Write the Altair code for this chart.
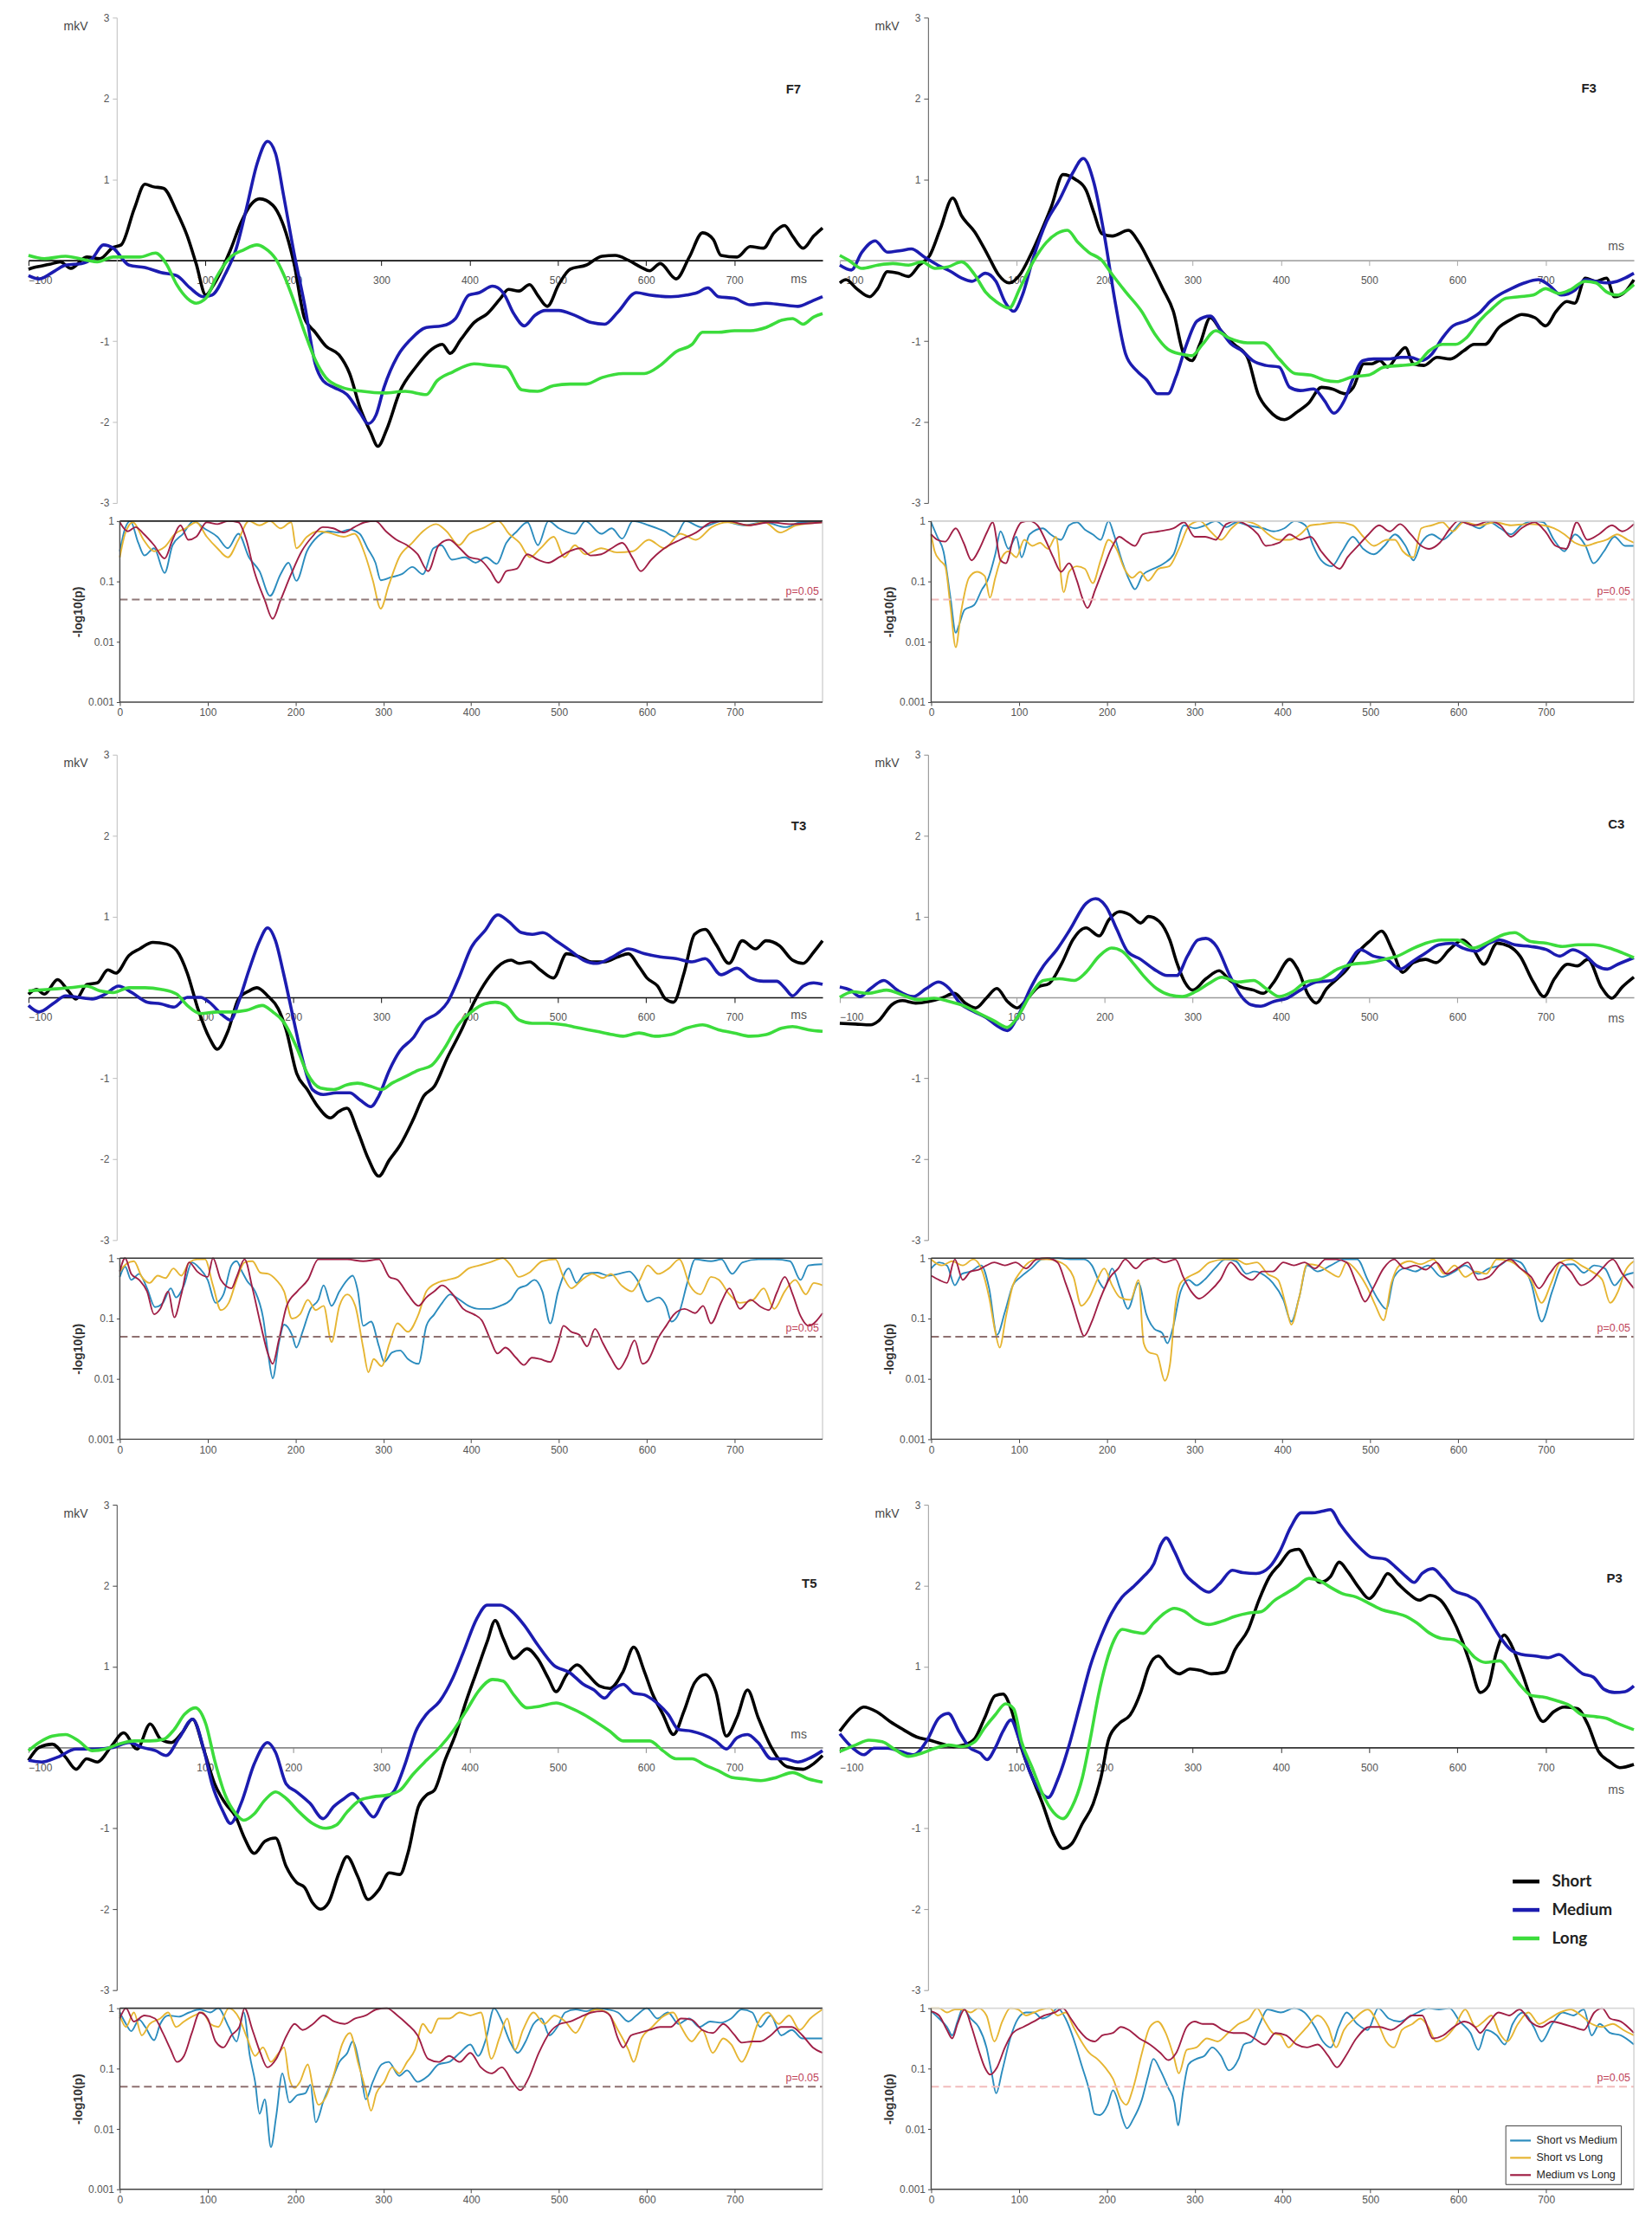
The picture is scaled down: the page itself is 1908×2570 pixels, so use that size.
import altair as alt
import pandas as pd

# ---------------- categories / colours ----------------
CONDITIONS = ["Short", "Medium", "Long"]
COND_COLORS = ["#000000", "#1c1cb0", "#3cdc3c"]
COMPARISONS = ["Short vs Medium", "Short vs Long", "Medium vs Long"]
COMP_COLORS = ["#2b8cbe", "#e6b532", "#a01f46"]

# ---------------- ERP amplitudes (ms, microvolts) ----------------
F7_SHORT = [(-100,-0.11),(-94,-0.09),(-76,-0.05),(-64,-0.02),(-52,-0.1),(-34,0.04),(-19,0.02),(-4,0.16),(5,0.19),(20,0.64),(32,0.94),(41,0.91),(53,0.89),(68,0.6),(80,0.3),(90,-0.04),(101,-0.43),(110,-0.3),(129,0.13),(141,0.47),(153,0.7),(162,0.76),(177,0.68),(189,0.43),(201,-0.04),(213,-0.72),(225,-0.89),(237,-1.06),(252,-1.17),(264,-1.4),(276,-1.83),(288,-2.13),(296,-2.3),(306,-2.09),(321,-1.62),(339,-1.32),(357,-1.1),(369,-1.04),(378,-1.15),(390,-0.98),(405,-0.77),(420,-0.66),(435,-0.47),(444,-0.36),(456,-0.38),(468,-0.3),(477,-0.43),(488,-0.57),(501,-0.3),(514,-0.11),(532,-0.06),(550,0.05),(565,0.06),(580,0.0),(595,-0.09),(604,-0.13),(616,-0.04),(634,-0.23),(649,0.04),(664,0.34),(676,0.26),(685,0.06),(703,0.04),(718,0.17),(733,0.15),(745,0.34),(757,0.43),(766,0.3),(778,0.15),(790,0.3),(800,0.4)]
F7_MEDIUM = [(-100,-0.19),(-88,-0.23),(-70,-0.13),(-58,-0.06),(-40,-0.04),(-28,0.02),(-15,0.19),(-4,0.15),(14,-0.06),(32,-0.09),(50,-0.15),(68,-0.19),(83,-0.34),(98,-0.45),(108,-0.43),(123,-0.17),(135,0.13),(147,0.64),(159,1.19),(171,1.47),(180,1.32),(189,0.81),(201,0.09),(213,-0.55),(225,-1.28),(234,-1.49),(246,-1.57),(261,-1.66),(276,-1.89),(285,-2.02),(294,-1.91),(303,-1.57),(318,-1.19),(333,-0.98),(351,-0.83),(369,-0.81),(384,-0.72),(399,-0.43),(411,-0.4),(426,-0.32),(438,-0.4),(450,-0.66),(462,-0.81),(474,-0.68),(486,-0.62),(501,-0.62),(519,-0.68),(538,-0.77),(553,-0.79),(568,-0.64),(589,-0.4),(604,-0.43),(628,-0.45),(646,-0.43),(658,-0.4),(670,-0.34),(682,-0.45),(700,-0.47),(718,-0.55),(736,-0.53),(754,-0.55),(772,-0.57),(787,-0.51),(800,-0.45)]
F7_LONG = [(-100,0.06),(-82,0.02),(-58,0.05),(-34,0.0),(-22,-0.02),(-4,0.04),(26,0.04),(44,0.09),(56,-0.04),(68,-0.3),(80,-0.47),(90,-0.53),(101,-0.47),(113,-0.21),(129,0.04),(144,0.13),(159,0.19),(168,0.15),(180,0.02),(189,-0.17),(201,-0.51),(213,-0.89),(225,-1.23),(237,-1.45),(255,-1.57),(279,-1.62),(303,-1.64),(327,-1.62),(351,-1.66),(363,-1.49),(381,-1.38),(405,-1.28),(423,-1.3),(441,-1.32),(459,-1.6),(477,-1.62),(495,-1.55),(514,-1.53),(532,-1.53),(550,-1.45),(574,-1.4),(598,-1.4),(616,-1.3),(634,-1.13),(652,-1.04),(664,-0.89),(682,-0.89),(700,-0.87),(718,-0.87),(736,-0.83),(754,-0.74),(766,-0.72),(778,-0.79),(790,-0.7),(800,-0.66)]

F3_SHORT = [(-100,-0.28),(-93,-0.24),(-81,-0.35),(-66,-0.45),(-57,-0.35),(-46,-0.14),(-34,-0.16),(-22,-0.2),(-10,-0.06),(2,0.06),(14,0.39),(28,0.77),(38,0.55),(53,0.35),(68,0.06),(80,-0.18),(92,-0.28),(104,-0.18),(116,0.06),(128,0.35),(140,0.67),(153,1.06),(167,1.0),(179,0.87),(188,0.59),(197,0.33),(209,0.3),(227,0.37),(239,0.22),(251,-0.02),(266,-0.35),(278,-0.63),(290,-1.16),(299,-1.24),(308,-1.04),(320,-0.71),(332,-0.87),(347,-1.04),(362,-1.2),(374,-1.65),(386,-1.85),(404,-1.97),(419,-1.87),(431,-1.77),(446,-1.57),(458,-1.59),(473,-1.65),(482,-1.57),(494,-1.28),(503,-1.28),(512,-1.24),(521,-1.32),(533,-1.16),(541,-1.08),(550,-1.28),(562,-1.3),(577,-1.2),(592,-1.22),(607,-1.12),(619,-1.04),(631,-1.04),(647,-0.83),(661,-0.73),(673,-0.67),(688,-0.71),(700,-0.81),(712,-0.63),(724,-0.51),(733,-0.53),(745,-0.22),(757,-0.26),(769,-0.22),(778,-0.45),(790,-0.39),(800,-0.24)]
F3_MEDIUM = [(-100,-0.06),(-87,-0.12),(-75,0.1),(-60,0.24),(-46,0.1),(-31,0.12),(-19,0.14),(-4,0.04),(11,-0.06),(26,-0.14),(38,-0.22),(50,-0.26),(65,-0.16),(77,-0.26),(87,-0.51),(97,-0.63),(107,-0.43),(119,0.02),(134,0.47),(149,0.75),(164,1.08),(176,1.26),(188,0.96),(200,0.3),(212,-0.51),(224,-1.16),(236,-1.36),(248,-1.48),(260,-1.65),(272,-1.65),(281,-1.44),(293,-1.04),(305,-0.75),(320,-0.69),(332,-0.87),(344,-1.04),(356,-1.12),(368,-1.24),(383,-1.3),(398,-1.32),(410,-1.57),(422,-1.61),(437,-1.59),(449,-1.73),(460,-1.89),(472,-1.73),(481,-1.48),(493,-1.24),(505,-1.22),(521,-1.22),(536,-1.2),(547,-1.2),(559,-1.24),(571,-1.16),(583,-0.96),(595,-0.81),(610,-0.75),(625,-0.65),(637,-0.51),(650,-0.41),(661,-0.35),(676,-0.28),(692,-0.24),(703,-0.3),(718,-0.43),(733,-0.37),(745,-0.24),(757,-0.26),(769,-0.28),(781,-0.26),(790,-0.22),(800,-0.16)]
F3_LONG = [(-100,0.06),(-90,0.0),(-75,-0.1),(-57,-0.06),(-40,-0.04),(-22,-0.06),(-7,-0.02),(8,-0.1),(23,-0.08),(38,-0.02),(53,-0.18),(65,-0.39),(77,-0.51),(92,-0.59),(104,-0.35),(119,-0.02),(134,0.22),(146,0.33),(158,0.37),(170,0.22),(182,0.1),(197,0.0),(209,-0.18),(224,-0.39),(242,-0.63),(257,-0.91),(272,-1.1),(287,-1.16),(299,-1.18),(311,-1.04),(326,-0.87),(341,-0.96),(362,-1.02),(380,-1.02),(398,-1.22),(416,-1.4),(434,-1.42),(449,-1.48),(463,-1.5),(481,-1.44),(499,-1.42),(517,-1.32),(536,-1.3),(553,-1.28),(568,-1.12),(583,-1.04),(598,-1.04),(610,-0.96),(625,-0.75),(640,-0.59),(655,-0.47),(670,-0.45),(686,-0.43),(700,-0.35),(715,-0.41),(727,-0.37),(745,-0.26),(757,-0.28),(769,-0.39),(781,-0.43),(790,-0.39),(800,-0.3)]

T3_SHORT = [(-100,0.04),(-91,0.1),(-82,0.04),(-67,0.22),(-55,0.08),(-46,-0.02),(-34,0.16),(-22,0.18),(-10,0.34),(-1,0.3),(14,0.52),(26,0.6),(41,0.68),(56,0.66),(68,0.58),(80,0.3),(92,-0.14),(105,-0.5),(114,-0.64),(126,-0.42),(138,-0.02),(150,0.08),(159,0.12),(171,0.02),(183,-0.14),(192,-0.4),(204,-0.94),(216,-1.14),(228,-1.35),(242,-1.49),(252,-1.41),(261,-1.37),(273,-1.65),(285,-1.99),(297,-2.21),(309,-2.01),(321,-1.83),(336,-1.51),(348,-1.22),(360,-1.1),(375,-0.74),(390,-0.42),(405,-0.06),(420,0.22),(432,0.38),(447,0.46),(456,0.42),(468,0.44),(480,0.34),(495,0.24),(510,0.54),(525,0.5),(538,0.44),(553,0.44),(568,0.5),(580,0.54),(592,0.38),(601,0.24),(613,0.14),(622,-0.02),(631,-0.06),(643,0.3),(655,0.78),(667,0.84),(679,0.66),(694,0.42),(709,0.7),(724,0.6),(736,0.7),(751,0.64),(766,0.46),(778,0.42),(790,0.56),(800,0.7)]
T3_MEDIUM = [(-100,-0.1),(-88,-0.18),(-70,-0.06),(-58,0.02),(-43,0.0),(-28,-0.02),(-13,0.04),(2,0.14),(17,0.06),(35,-0.06),(50,-0.08),(65,-0.12),(80,0.0),(95,0.0),(105,-0.06),(120,-0.22),(129,-0.28),(138,-0.06),(150,0.34),(162,0.7),(171,0.86),(180,0.7),(189,0.3),(201,-0.3),(210,-0.74),(222,-1.14),(234,-1.2),(249,-1.18),(264,-1.18),(276,-1.27),(288,-1.35),(297,-1.22),(309,-0.9),(321,-0.66),(336,-0.5),(348,-0.3),(363,-0.2),(375,-0.06),(387,0.22),(402,0.62),(417,0.82),(432,1.02),(444,0.94),(459,0.8),(471,0.78),(483,0.8),(498,0.7),(514,0.58),(529,0.46),(544,0.42),(562,0.5),(580,0.6),(598,0.54),(616,0.5),(634,0.48),(652,0.44),(667,0.48),(685,0.28),(703,0.36),(718,0.24),(733,0.2),(748,0.2),(757,0.12),(766,0.02),(778,0.14),(790,0.18),(800,0.16)]
T3_LONG = [(-100,0.08),(-76,0.1),(-52,0.12),(-34,0.14),(-19,0.08),(-4,0.06),(14,0.12),(32,0.12),(50,0.1),(68,0.04),(80,-0.1),(95,-0.2),(114,-0.18),(129,-0.18),(147,-0.16),(165,-0.1),(177,-0.18),(189,-0.3),(204,-0.62),(216,-0.94),(231,-1.12),(246,-1.14),(261,-1.08),(273,-1.06),(288,-1.1),(300,-1.14),(312,-1.06),(327,-0.98),(342,-0.9),(357,-0.84),(372,-0.62),(387,-0.34),(402,-0.18),(417,-0.08),(429,-0.06),(441,-0.1),(456,-0.28),(471,-0.32),(489,-0.32),(507,-0.34),(525,-0.38),(544,-0.42),(562,-0.46),(574,-0.48),(592,-0.44),(610,-0.48),(628,-0.46),(646,-0.38),(664,-0.34),(682,-0.4),(700,-0.44),(718,-0.48),(736,-0.46),(754,-0.38),(766,-0.36),(784,-0.4),(800,-0.42)]

C3_SHORT = [(-100,-0.32),(-82,-0.33),(-65,-0.34),(-56,-0.29),(-41,-0.09),(-29,-0.04),(-14,-0.07),(1,-0.05),(15,-0.01),(30,0.05),(42,-0.07),(54,-0.13),(66,-0.01),(78,0.11),(90,-0.05),(101,-0.13),(113,-0.01),(125,0.13),(137,0.17),(152,0.43),(164,0.71),(179,0.86),(194,0.76),(205,0.96),(217,1.06),(229,1.02),(241,0.92),(250,1.0),(262,0.94),(274,0.71),(282,0.43),(291,0.19),(300,0.09),(315,0.23),(330,0.33),(342,0.21),(354,0.13),(369,0.09),(380,0.05),(392,0.19),(410,0.47),(419,0.35),(431,0.03),(440,-0.07),(452,0.11),(464,0.23),(475,0.35),(487,0.55),(502,0.71),(514,0.82),(526,0.59),(538,0.31),(550,0.43),(564,0.47),(576,0.43),(591,0.59),(606,0.71),(618,0.59),(630,0.41),(645,0.67),(659,0.63),(671,0.51),(686,0.19),(698,0.01),(710,0.23),(725,0.41),(736,0.39),(748,0.47),(763,0.13),(775,-0.01),(787,0.13),(800,0.25)]
C3_MEDIUM = [(-100,0.13),(-88,0.09),(-77,0.01),(-65,0.11),(-50,0.21),(-35,0.09),(-17,0.01),(-2,0.11),(12,0.19),(24,0.11),(36,-0.07),(51,-0.17),(66,-0.25),(78,-0.35),(90,-0.41),(101,-0.25),(116,0.11),(131,0.39),(146,0.59),(161,0.84),(179,1.16),(190,1.22),(202,1.12),(214,0.84),(226,0.57),(241,0.47),(256,0.35),(271,0.27),(282,0.27),(294,0.51),(306,0.71),(315,0.73),(327,0.63),(342,0.27),(354,0.03),(366,-0.09),(377,-0.11),(392,-0.05),(407,-0.01),(422,0.09),(440,0.19),(458,0.21),(475,0.39),(490,0.59),(505,0.51),(520,0.47),(535,0.35),(550,0.45),(564,0.55),(579,0.65),(594,0.67),(606,0.61),(621,0.57),(636,0.67),(648,0.71),(665,0.65),(683,0.63),(701,0.59),(716,0.51),(731,0.59),(746,0.51),(758,0.39),(770,0.35),(782,0.41),(800,0.49)]
C3_LONG = [(-100,0.0),(-85,0.07),(-68,0.05),(-47,0.09),(-29,0.03),(-11,-0.03),(7,-0.01),(24,-0.05),(42,-0.11),(60,-0.21),(75,-0.29),(90,-0.37),(101,-0.25),(116,0.03),(131,0.21),(149,0.23),(166,0.21),(179,0.31),(194,0.51),(208,0.61),(220,0.57),(232,0.43),(244,0.27),(259,0.11),(274,0.03),(288,0.01),(303,0.07),(318,0.17),(333,0.25),(351,0.19),(369,0.21),(383,0.11),(398,0.01),(413,0.07),(428,0.19),(446,0.23),(464,0.35),(481,0.41),(499,0.43),(517,0.47),(532,0.51),(547,0.59),(564,0.67),(582,0.71),(600,0.71),(618,0.61),(636,0.69),(653,0.78),(665,0.8),(683,0.69),(701,0.67),(719,0.63),(737,0.65),(754,0.65),(772,0.61),(787,0.55),(800,0.49)]

T5_SHORT = [(-100,-0.16),(-88,0.0),(-73,0.04),(-58,-0.12),(-46,-0.27),(-34,-0.14),(-22,-0.18),(-7,0.0),(8,0.18),(23,-0.02),(38,0.29),(50,0.1),(62,0.06),(74,0.18),(86,0.35),(99,-0.04),(111,-0.45),(123,-0.69),(135,-0.86),(144,-1.1),(156,-1.31),(168,-1.16),(180,-1.12),(192,-1.47),(204,-1.67),(213,-1.73),(222,-1.92),(231,-2.0),(240,-1.92),(252,-1.55),(261,-1.35),(273,-1.59),(285,-1.88),(297,-1.76),(309,-1.55),(321,-1.57),(330,-1.31),(342,-0.73),(351,-0.59),(360,-0.53),(372,-0.16),(384,0.16),(396,0.57),(408,0.94),(420,1.31),(429,1.57),(438,1.35),(450,1.1),(465,1.22),(477,1.1),(489,0.86),(498,0.69),(510,0.9),(522,1.02),(534,0.9),(547,0.76),(559,0.73),(574,0.94),(586,1.24),(598,0.94),(607,0.67),(619,0.41),(631,0.16),(643,0.45),(655,0.8),(667,0.9),(679,0.69),(691,0.14),(703,0.37),(715,0.71),(727,0.37),(742,0.0),(760,-0.24),(778,-0.27),(790,-0.2),(800,-0.1)]
T5_MEDIUM = [(-100,-0.16),(-85,-0.18),(-67,-0.12),(-46,-0.02),(-25,-0.02),(-4,0.0),(14,0.06),(29,0.0),(44,-0.04),(56,-0.1),(71,0.12),(86,0.35),(99,-0.04),(108,-0.45),(120,-0.78),(129,-0.94),(141,-0.69),(156,-0.2),(171,0.06),(180,-0.06),(192,-0.45),(204,-0.55),(219,-0.69),(234,-0.88),(246,-0.73),(258,-0.63),(267,-0.57),(279,-0.71),(291,-0.86),(303,-0.65),(315,-0.53),(327,-0.2),(339,0.2),(351,0.41),(366,0.57),(381,0.86),(393,1.18),(408,1.59),(420,1.76),(435,1.76),(447,1.69),(462,1.51),(477,1.27),(495,1.02),(514,0.92),(529,0.78),(541,0.71),(553,0.61),(562,0.71),(574,0.78),(586,0.67),(598,0.65),(610,0.57),(625,0.41),(637,0.22),(652,0.2),(664,0.16),(679,0.08),(691,-0.02),(703,0.12),(715,0.16),(727,0.06),(742,-0.14),(757,-0.14),(772,-0.18),(784,-0.14),(800,-0.04)]
T5_LONG = [(-100,-0.04),(-88,0.06),(-73,0.14),(-58,0.16),(-43,0.08),(-28,-0.04),(-13,-0.02),(2,0.04),(20,0.08),(38,0.08),(53,0.1),(65,0.22),(77,0.41),(89,0.49),(101,0.29),(111,-0.16),(123,-0.59),(135,-0.82),(144,-0.9),(156,-0.82),(168,-0.65),(180,-0.55),(192,-0.63),(207,-0.8),(222,-0.94),(237,-1.0),(249,-0.96),(261,-0.8),(276,-0.65),(291,-0.61),(306,-0.59),(321,-0.53),(336,-0.33),(351,-0.16),(366,0.0),(381,0.2),(396,0.45),(411,0.71),(426,0.84),(438,0.82),(450,0.65),(465,0.49),(480,0.51),(498,0.55),(514,0.49),(529,0.41),(544,0.31),(559,0.2),(574,0.08),(589,0.08),(604,0.08),(619,-0.04),(634,-0.14),(652,-0.14),(667,-0.22),(682,-0.29),(697,-0.37),(712,-0.39),(730,-0.41),(748,-0.37),(766,-0.31),(784,-0.39),(800,-0.43)]

P3_SHORT = [(-100,0.2),(-85,0.4),(-73,0.5),(-58,0.44),(-43,0.32),(-28,0.22),(-13,0.13),(2,0.09),(14,0.05),(29,0.01),(41,0.03),(53,0.11),(64,0.36),(76,0.64),(85,0.66),(94,0.48),(106,-0.01),(118,-0.37),(130,-0.7),(142,-1.07),(153,-1.25),(163,-1.19),(175,-0.94),(187,-0.7),(196,-0.37),(205,0.11),(217,0.3),(229,0.4),(241,0.68),(250,0.99),(261,1.13),(273,0.99),(285,0.91),(297,0.97),(309,0.95),(321,0.91),(336,0.93),(348,1.21),(363,1.46),(375,1.82),(387,2.11),(399,2.27),(411,2.43),(420,2.45),(432,2.23),(444,2.04),(456,2.11),(466,2.29),(476,2.17),(488,1.98),(500,1.84),(512,2.0),(521,2.15),(533,2.02),(545,1.9),(557,1.82),(569,1.88),(581,1.82),(593,1.62),(605,1.33),(614,1.05),(626,0.68),(635,0.76),(644,1.17),(653,1.39),(661,1.27),(673,0.93),(685,0.56),(697,0.32),(709,0.44),(721,0.5),(736,0.48),(748,0.28),(760,-0.05),(772,-0.17),(784,-0.25),(800,-0.21)]
P3_MEDIUM = [(-100,0.17),(-85,-0.01),(-73,-0.09),(-61,-0.01),(-46,-0.01),(-31,-0.05),(-16,-0.09),(-1,0.09),(12,0.36),(23,0.42),(35,0.2),(47,0.0),(59,-0.07),(67,-0.15),(76,-0.01),(85,0.2),(94,0.34),(103,0.11),(115,-0.29),(127,-0.54),(136,-0.62),(148,-0.37),(160,0.03),(172,0.52),(184,1.01),(196,1.37),(208,1.66),(220,1.86),(232,1.98),(244,2.11),(256,2.27),(264,2.51),(270,2.59),(279,2.43),(291,2.15),(303,2.02),(318,1.92),(330,2.02),(345,2.19),(357,2.16),(372,2.15),(387,2.23),(399,2.43),(411,2.72),(423,2.9),(435,2.9),(447,2.92),(456,2.94),(467,2.76),(479,2.59),(491,2.45),(503,2.35),(518,2.33),(530,2.23),(542,2.11),(551,2.04),(560,2.15),(572,2.21),(584,2.09),(596,1.94),(611,1.88),(623,1.8),(635,1.6),(648,1.37),(660,1.21),(673,1.15),(688,1.13),(703,1.11),(715,1.15),(727,1.05),(742,0.91),(754,0.87),(766,0.72),(778,0.68),(790,0.69),(800,0.76)]
P3_LONG = [(-100,-0.05),(-82,0.03),(-67,0.09),(-52,0.07),(-37,-0.03),(-22,-0.11),(-7,-0.07),(8,-0.01),(23,0.03),(38,0.01),(53,0.07),(64,0.24),(76,0.4),(88,0.54),(97,0.48),(106,0.07),(118,-0.25),(130,-0.58),(142,-0.8),(153,-0.88),(163,-0.74),(175,-0.37),(184,0.11),(193,0.64),(202,1.05),(211,1.33),(220,1.46),(232,1.43),(244,1.41),(256,1.54),(268,1.66),(279,1.72),(291,1.68),(303,1.58),(318,1.52),(333,1.56),(348,1.62),(363,1.66),(378,1.68),(393,1.82),(405,1.9),(417,1.98),(432,2.09),(444,2.06),(456,1.98),(470,1.9),(485,1.86),(500,1.78),(515,1.7),(530,1.66),(542,1.62),(554,1.54),(569,1.41),(581,1.35),(596,1.33),(608,1.25),(620,1.11),(632,1.05),(648,1.07),(660,0.93),(672,0.76),(684,0.64),(699,0.62),(712,0.58),(727,0.52),(742,0.4),(757,0.38),(769,0.36),(781,0.3),(800,0.22)]

# ---------------- significance, -log10(p) (ms, decades) ----------------
F7_SM = [(0,0.50),(6,0.12),(12,0),(21,0.36),(28,0.57),(39,0.45),(51,0.86),(60,0.40),(72,0.21),(84,0),(96,0.12),(111,0.26),(123,0.45),(135,0.21),(147,0.60),(159,0.83),(171,1.24),(183,0.88),(192,0.69),(201,0.99),(213,0.50),(225,0.26),(237,0.17),(249,0.19),(261,0.14),(273,0.21),(282,0.45),(291,0.69),(297,0.98),(309,0.93),(321,0.88),(333,0.76),(345,0.88),(357,0.45),(366,0.40),(378,0.64),(393,0.60),(405,0.69),(417,0.60),(429,0.71),(440,0.36),(452,0.17),(464,0.02),(476,0.40),(488,0),(500,0.12),(518,0.21),(530,0),(548,0.21),(560,0.12),(572,0.29),(584,0),(602,0.07),(620,0.17),(632,0.26),(644,0),(662,0.10),(686,0),(710,0.07),(734,0.02),(758,0.10),(776,0.02),(800,0.02)]
F7_SL = [(0,0.60),(6,0.21),(15,0.02),(27,0.31),(39,0.50),(51,0.43),(63,0.21),(75,0.12),(87,0.02),(99,0.26),(111,0.45),(123,0.60),(135,0.31),(147,0),(159,0.07),(171,0),(183,0.12),(195,0.02),(201,0.45),(213,0.26),(225,0.17),(237,0.19),(255,0.26),(267,0.21),(279,0.55),(288,0.98),(297,1.45),(306,1.07),(318,0.60),(333,0.36),(345,0.17),(360,0.05),(372,0.17),(386,0.40),(398,0.21),(413,0.12),(431,0),(443,0.21),(455,0.36),(467,0.60),(479,0.45),(494,0.26),(506,0.60),(518,0.40),(530,0.55),(548,0.45),(566,0.52),(584,0.50),(602,0.31),(620,0.45),(638,0.21),(656,0.31),(674,0.10),(692,0.02),(716,0.07),(734,0.02),(752,0.19),(770,0.07),(800,0.02)]
F7_ML = [(0,0.02),(9,0.17),(18,0.10),(27,0.21),(39,0.40),(51,0.62),(60,0.31),(69,0.07),(78,0.31),(87,0.26),(99,0.02),(111,0.05),(123,0),(135,0.02),(144,0.31),(153,0.83),(165,1.31),(174,1.62),(183,1.31),(195,0.88),(207,0.50),(219,0.26),(231,0.10),(243,0.12),(255,0.19),(267,0.10),(279,0.02),(291,0),(303,0.17),(315,0.31),(327,0.40),(339,0.55),(351,0.83),(363,0.40),(375,0.31),(387,0.45),(398,0.60),(410,0.64),(422,0.83),(431,1.02),(440,0.83),(452,0.79),(464,0.55),(476,0.64),(488,0.69),(500,0.60),(512,0.50),(524,0.45),(536,0.57),(548,0.55),(560,0.45),(572,0.36),(584,0.62),(593,0.83),(605,0.64),(620,0.45),(638,0.31),(656,0.19),(674,0.02),(692,0),(716,0.07),(740,0.02),(764,0.05),(800,0.02)]

F3_SM = [(0,0.02),(7,0.26),(14,0.50),(22,1.27),(28,1.85),(32,1.71),(38,1.47),(49,1.39),(58,1.13),(64,0.99),(73,0.55),(79,0.17),(88,0.46),(97,0.26),(103,0.60),(112,0.22),(127,0.12),(136,0.22),(148,0.31),(157,0.07),(166,0.02),(175,0.14),(184,0.22),(193,0.31),(202,0),(208,0.22),(217,0.65),(226,0.99),(232,1.13),(241,0.89),(253,0.79),(265,0.70),(276,0.55),(288,0.07),(300,0.12),(312,0.07),(324,0),(336,0.10),(348,0.02),(360,0.07),(378,0.12),(390,0.17),(402,0.12),(414,0),(426,0.07),(435,0.41),(444,0.65),(456,0.75),(468,0.50),(480,0.26),(492,0.46),(504,0.55),(516,0.41),(528,0.22),(540,0.41),(549,0.65),(558,0.36),(570,0.22),(582,0.31),(594,0.17),(606,0),(624,0.12),(636,0.02),(648,0.12),(660,0.22),(672,0.07),(685,0),(697,0.02),(709,0.31),(721,0.50),(733,0.22),(745,0.41),(754,0.70),(766,0.50),(778,0.26),(790,0.41),(800,0.41)]
F3_SL = [(0,0.22),(4,0.50),(10,0.65),(16,0.75),(22,1.42),(28,2.09),(34,1.51),(43,0.94),(52,0.84),(61,0.91),(67,1.27),(73,0.94),(79,0.65),(88,0.50),(97,0.60),(106,0.31),(115,0.41),(124,0.36),(133,0.46),(142,0.26),(151,1.18),(157,0.84),(166,0.75),(175,0.79),(184,1.03),(193,0.65),(202,0.31),(211,0.46),(220,0.79),(229,0.94),(238,0.84),(247,0.99),(259,0.79),(271,0.75),(282,0.46),(294,0.07),(306,0),(318,0.17),(330,0.31),(342,0.12),(354,0),(372,0.07),(384,0.22),(396,0.31),(408,0.31),(420,0.22),(432,0.07),(444,0.05),(462,0.02),(480,0.07),(492,0.26),(504,0.41),(519,0.31),(528,0.31),(537,0.50),(549,0.60),(558,0.12),(570,0.07),(582,0.02),(594,0.17),(606,0.02),(624,0.07),(642,0.02),(660,0.07),(678,0.05),(697,0.07),(709,0.12),(721,0.22),(733,0.36),(745,0.41),(757,0.36),(769,0.31),(781,0.22),(793,0.31),(800,0.36)]
F3_ML = [(0,0.22),(7,0.31),(16,0.34),(28,0.12),(37,0.36),(46,0.65),(55,0.46),(64,0.17),(70,0.02),(79,0.65),(85,0.70),(94,0.26),(103,0.02),(112,0),(121,0.07),(130,0.31),(139,0.60),(148,0.84),(157,0.70),(166,0.99),(172,1.27),(178,1.44),(187,1.13),(196,0.79),(205,0.46),(214,0.26),(223,0.34),(232,0.41),(241,0.22),(259,0.17),(276,0.12),(288,0.02),(300,0.26),(312,0.26),(324,0.31),(336,0.05),(348,0),(360,0.07),(372,0.22),(381,0.41),(396,0.36),(408,0.22),(420,0.31),(432,0.26),(444,0.50),(456,0.70),(465,0.79),(474,0.60),(486,0.41),(498,0.22),(510,0.07),(522,0.17),(534,0.05),(546,0.22),(558,0.41),(567,0.46),(579,0.36),(591,0.12),(600,0),(618,0.07),(636,0),(648,0.07),(660,0.26),(672,0.12),(687,0.02),(699,0.17),(711,0.41),(723,0.46),(735,0.02),(747,0.31),(760,0.22),(775,0.07),(787,0.17),(800,0.05)]

T3_SM = [(0,0.31),(6,0.14),(13,0.36),(22,0.26),(31,0.50),(40,0.81),(49,0.74),(58,0.50),(64,0.65),(73,0.45),(82,0.07),(91,0.17),(100,0.36),(109,0.74),(118,0.60),(127,0.12),(133,0.05),(139,0.22),(145,0.38),(154,0.55),(163,0.98),(169,1.60),(174,1.99),(181,1.41),(187,1.10),(196,1.27),(201,1.48),(208,1.22),(217,0.84),(226,0.69),(232,0.45),(241,0.79),(250,0.55),(259,0.36),(265,0.29),(271,0.55),(277,1.12),(286,1.05),(295,1.46),(301,1.72),(310,1.56),(319,1.53),(328,1.67),(340,1.75),(349,1.12),(358,0.93),(367,0.74),(376,0.60),(385,0.67),(397,0.79),(409,0.84),(421,0.84),(433,0.79),(445,0.69),(454,0.50),(463,0.45),(472,0.36),(481,0.55),(490,1.08),(499,0.55),(511,0.17),(520,0.41),(529,0.26),(544,0.24),(556,0.29),(568,0.26),(580,0.22),(589,0.36),(601,0.72),(613,0.65),(622,0.79),(628,1.05),(637,0.89),(646,0.41),(655,0.02),(673,0.05),(685,0.02),(697,0.26),(709,0.07),(727,0.02),(745,0.02),(763,0.05),(775,0.36),(784,0.12),(800,0.10)]
T3_SL = [(0,0.22),(7,0.10),(16,0.05),(25,0.31),(34,0.41),(43,0.29),(52,0.33),(61,0.17),(70,0.29),(79,0.07),(88,0.02),(97,0.02),(106,0.45),(115,0.86),(124,0.74),(133,0.36),(142,0.07),(151,0.05),(160,0.24),(169,0.26),(178,0.36),(187,0.55),(196,1.00),(205,0.93),(214,0.69),(223,0.86),(232,0.79),(241,1.39),(250,0.79),(259,0.60),(268,0.79),(277,1.48),(283,1.89),(289,1.67),(298,1.79),(307,1.41),(316,1.08),(328,1.22),(340,0.93),(349,0.55),(361,0.41),(373,0.36),(385,0.31),(397,0.17),(409,0.12),(421,0.07),(436,0),(445,0.12),(454,0.31),(466,0.24),(481,0.05),(496,0.02),(505,0.31),(514,0.50),(526,0.36),(538,0.26),(550,0.33),(559,0.26),(571,0.45),(583,0.55),(592,0.36),(601,0.12),(613,0.26),(625,0.17),(637,0.02),(649,0.45),(661,0.60),(673,0.31),(682,0.36),(694,0.60),(706,0.74),(721,0.69),(733,0.50),(745,0.84),(757,0.55),(769,0.36),(781,0.60),(790,0.41),(800,0.45)]
T3_ML = [(0,0.22),(6,0),(13,0.26),(22,0.36),(31,0.55),(39,0.93),(46,0.84),(55,0.55),(62,0.98),(70,0.60),(79,0.07),(88,0.22),(100,0.31),(106,0),(115,0.36),(127,0.50),(133,0.31),(142,0.02),(151,0.50),(160,1.08),(169,1.60),(174,1.75),(181,1.36),(190,0.79),(202,0.55),(214,0.36),(226,0.02),(241,0.02),(259,0.02),(277,0.05),(295,0.02),(307,0.31),(316,0.36),(328,0.60),(340,0.79),(349,0.65),(358,0.55),(367,0.45),(379,0.60),(391,0.84),(403,0.93),(412,1.03),(421,1.32),(430,1.58),(439,1.48),(451,1.65),(460,1.77),(469,1.65),(478,1.67),(490,1.72),(499,1.41),(505,1.12),(514,1.22),(523,1.27),(532,1.46),(541,1.17),(550,1.41),(559,1.65),(568,1.84),(577,1.65),(586,1.36),(595,1.75),(601,1.70),(613,1.32),(622,1.12),(631,0.93),(643,0.84),(655,0.91),(664,0.79),(673,1.08),(685,0.72),(694,0.50),(706,0.84),(718,0.69),(730,0.81),(739,0.86),(748,0.57),(757,0.31),(766,0.60),(775,0.96),(784,1.12),(800,0.91)]

C3_SM = [(0,0.17),(9,0.07),(18,0.12),(27,0.45),(35,0.26),(45,0.22),(57,0.12),(66,0.50),(75,1.27),(84,0.89),(93,0.45),(102,0.31),(114,0.17),(126,0.02),(144,0),(162,0.02),(174,0.02),(183,0.12),(192,0.41),(197,0.50),(206,0.17),(215,0.50),(224,0.84),(236,0.41),(245,0.93),(254,1.17),(263,1.24),(269,1.41),(275,1.17),(284,0.55),(293,0.36),(302,0.45),(311,0.36),(323,0.17),(335,0.02),(347,0.05),(359,0.26),(368,0.22),(380,0.29),(389,0.41),(401,0.69),(410,1.05),(419,0.65),(428,0.12),(440,0.22),(455,0.12),(470,0.02),(485,0.02),(497,0.36),(509,0.69),(518,0.84),(527,0.31),(539,0.17),(551,0.22),(566,0.12),(581,0.31),(596,0.22),(608,0.12),(623,0.26),(635,0.17),(647,0.12),(659,0.02),(671,0.07),(683,0.41),(695,1.05),(707,0.55),(719,0.12),(731,0.10),(743,0.24),(755,0.12),(767,0.17),(778,0.45),(787,0.31),(800,0.24)]
C3_SL = [(0,0.02),(12,0.12),(24,0.05),(36,0.12),(48,0.02),(57,0.17),(66,0.65),(73,1.22),(78,1.48),(85,0.98),(93,0.45),(102,0.22),(111,0.07),(120,0.02),(132,0.02),(144,0.05),(153,0.12),(162,0.31),(171,0.79),(180,0.65),(189,0.36),(197,0.17),(206,0.45),(215,0.65),(227,0.69),(236,0.36),(242,1.41),(248,1.56),(257,1.60),(266,2.03),(272,1.75),(278,0.79),(284,0.41),(293,0.31),(305,0.22),(317,0.07),(335,0.02),(347,0.02),(359,0.10),(371,0.07),(383,0.26),(395,0.36),(404,0.79),(410,1.10),(419,0.65),(428,0.10),(440,0.12),(452,0.22),(464,0.31),(473,0.07),(485,0.22),(497,0.50),(506,0.79),(515,1.03),(524,0.41),(533,0.12),(545,0.05),(557,0.10),(572,0.02),(584,0.26),(596,0.12),(608,0.31),(620,0.22),(632,0.26),(644,0.02),(659,0.05),(671,0.17),(683,0.36),(695,0.74),(706,0.41),(716,0.07),(728,0.02),(740,0.12),(752,0.22),(764,0.36),(773,0.74),(782,0.55),(790,0.22),(800,0.05)]
C3_ML = [(0,0.29),(9,0.36),(18,0.41),(27,0.02),(36,0.36),(45,0.22),(54,0.19),(63,0.12),(72,0.07),(84,0.12),(96,0.07),(108,0.17),(120,0.02),(132,0),(144,0.07),(153,0.41),(162,0.79),(168,1.08),(174,1.29),(183,1.05),(192,0.69),(204,0.31),(213,0.17),(221,0.02),(233,0.17),(242,0.05),(254,0),(266,0.07),(278,0.02),(287,0.31),(296,0.55),(305,0.67),(317,0.55),(329,0.36),(341,0.07),(353,0.26),(365,0.36),(377,0.22),(389,0.22),(401,0.07),(413,0.12),(425,0.07),(437,0.17),(449,0.02),(461,0.02),(473,0.07),(485,0.45),(494,0.72),(503,0.50),(515,0.17),(527,0.02),(539,0.17),(551,0.12),(563,0.19),(575,0.07),(587,0.26),(599,0.17),(611,0.07),(623,0.36),(635,0.31),(647,0.12),(659,0.02),(671,0.17),(683,0.31),(692,0.50),(704,0.26),(716,0.07),(728,0.22),(740,0.45),(752,0.36),(764,0.17),(776,0.02),(787,0.26),(800,0.50)]

T5_SM = [(0,0.07),(7,0.26),(13,0.38),(22,0.19),(29,0.31),(39,0.53),(46,0.26),(55,0.12),(67,0.14),(79,0.07),(91,0.02),(103,0.07),(112,0),(124,0.31),(133,0.55),(141,0.07),(148,0.79),(154,1.22),(159,1.75),(165,1.51),(172,2.30),(178,1.79),(185,1.08),(193,1.56),(202,1.44),(211,1.41),(217,1.27),(223,1.89),(232,1.53),(241,1.22),(250,0.89),(259,0.74),(265,0.55),(274,1.03),(280,1.51),(288,1.22),(298,0.93),(306,0.89),(318,1.12),(327,1.03),(339,1.22),(351,1.12),(363,0.93),(375,0.89),(387,0.74),(399,0.60),(408,0.79),(417,0.50),(426,0),(435,0.22),(444,0.55),(453,0.74),(462,0.55),(471,0.26),(480,0.17),(489,0.45),(498,0.31),(507,0.07),(519,0.02),(531,0.05),(543,0),(555,0.02),(567,0.07),(579,0.22),(588,0.12),(600,0),(612,0.17),(624,0.07),(636,0.26),(648,0.17),(660,0.31),(672,0.22),(684,0.24),(696,0.17),(708,0.02),(720,0.07),(729,0.31),(741,0.12),(753,0.45),(765,0.36),(777,0.50),(800,0.50)]
T5_SL = [(0,0.12),(7,0.31),(16,0.07),(25,0.45),(34,0.26),(46,0.17),(55,0.07),(64,0.31),(73,0.22),(85,0.12),(94,0.07),(103,0.26),(112,0.31),(124,0),(136,0.17),(145,0.50),(154,0.79),(163,0.65),(172,0.89),(181,0.74),(187,0.65),(193,1.17),(199,1.32),(205,1.22),(214,0.93),(220,1.32),(226,1.60),(235,1.46),(244,1.08),(253,0.60),(262,0.41),(271,0.89),(280,1.36),(286,1.70),(292,1.41),(301,1.22),(310,0.98),(318,1.08),(327,0.89),(336,0.69),(345,0.26),(354,0.41),(363,0.17),(375,0.17),(387,0.07),(399,0.12),(411,0.07),(423,0.84),(432,0.50),(441,0.17),(450,0.69),(459,0.36),(471,0.07),(483,0.26),(495,0.12),(507,0.22),(519,0.41),(531,0.12),(543,0.02),(555,0.07),(567,0.36),(579,0.69),(585,0.89),(594,0.50),(606,0.31),(618,0.14),(630,0.07),(639,0.31),(651,0.55),(663,0.36),(675,0.74),(687,0.50),(696,0.60),(708,0.89),(717,0.65),(726,0.26),(738,0.07),(750,0.26),(762,0.12),(774,0.36),(786,0.17),(800,0.02)]
T5_ML = [(0,0.17),(7,0),(16,0.22),(28,0.12),(40,0.17),(49,0.41),(58,0.69),(65,0.89),(73,0.79),(82,0.41),(91,0.07),(100,0.17),(109,0.55),(118,0.65),(127,0.45),(136,0.31),(142,0),(151,0.36),(160,0.74),(168,0.98),(178,0.84),(190,0.45),(199,0.26),(208,0.36),(220,0.26),(232,0.12),(244,0.22),(256,0.26),(268,0.17),(280,0.12),(292,0.02),(304,0),(316,0.12),(327,0.26),(339,0.45),(351,0.84),(363,0.89),(375,0.79),(387,0.89),(399,0.74),(411,0.98),(423,1.08),(435,0.98),(447,1.22),(456,1.36),(465,1.17),(477,0.74),(489,0.41),(501,0.26),(513,0.22),(525,0.14),(537,0.07),(549,0.05),(558,0.12),(567,0.50),(573,0.65),(582,0.45),(591,0.41),(603,0.36),(615,0.31),(627,0.31),(639,0.17),(651,0.19),(663,0.36),(675,0.41),(687,0.26),(699,0.43),(708,0.57),(720,0.55),(729,0.55),(741,0.45),(753,0.31),(765,0.31),(777,0.45),(789,0.65),(800,0.74)]

P3_SM = [(0,0.05),(9,0.17),(18,0.31),(24,0.45),(30,0.22),(36,0),(45,0.17),(54,0.31),(63,0.65),(69,1.08),(74,1.41),(81,1.03),(90,0.50),(99,0.17),(108,0.07),(117,0.07),(126,0.17),(135,0.12),(144,0),(153,0.17),(162,0.50),(171,0.93),(180,1.36),(186,1.75),(192,1.77),(201,1.60),(207,1.36),(213,1.56),(217,1.79),(223,1.99),(230,1.84),(240,1.51),(247,1.12),(253,0.84),(261,1.03),(270,1.32),(277,1.56),(281,1.94),(287,1.36),(293,0.93),(302,0.84),(311,0.79),(320,0.65),(330,0.79),(339,1.03),(350,0.84),(356,0.60),(365,0.55),(374,0.26),(383,0.02),(398,0.07),(413,0),(425,0.07),(437,0.31),(446,0.55),(455,0.65),(464,0.31),(473,0.07),(485,0.26),(497,0.36),(509,0),(521,0.17),(533,0.22),(545,0.14),(554,0.07),(566,0),(578,0.02),(590,0),(602,0.22),(614,0.41),(623,0.69),(632,0.36),(644,0.45),(653,0.60),(662,0.26),(674,0.07),(686,0.31),(695,0.55),(707,0.26),(719,0.07),(731,0.12),(743,0.02),(752,0.45),(761,0.26),(773,0.41),(785,0.45),(800,0.60)]
P3_SL = [(0,0),(9,0),(18,0.07),(27,0.02),(36,0.02),(45,0.07),(54,0),(63,0.12),(72,0.55),(81,0.22),(90,0),(99,0.02),(108,0.12),(117,0.07),(126,0.02),(135,0),(144,0.12),(153,0.07),(162,0.31),(171,0.55),(180,0.74),(189,0.84),(198,0.98),(207,1.17),(216,1.51),(222,1.60),(230,1.32),(240,0.74),(249,0.31),(258,0.22),(267,0.41),(276,0.79),(282,1.08),(291,0.69),(302,0.65),(314,0.50),(326,0.55),(338,0.41),(350,0.26),(362,0.17),(371,0),(380,0.22),(389,0.41),(398,0.45),(407,0.65),(416,0.50),(428,0.31),(440,0.12),(452,0.31),(461,0.65),(470,0.36),(482,0.17),(497,0.02),(509,0.26),(518,0.55),(527,0.65),(536,0.36),(548,0.26),(557,0.17),(566,0.31),(575,0.55),(584,0.50),(596,0.31),(608,0.02),(620,0.31),(629,0.22),(638,0.12),(647,0.41),(656,0.55),(668,0.26),(680,0.07),(692,0.26),(704,0.17),(716,0.07),(728,0.02),(740,0.12),(752,0.26),(764,0.31),(776,0.26),(788,0.36),(800,0.45)]
P3_ML = [(0,0.05),(9,0.12),(18,0.36),(24,0.50),(30,0.26),(38,0.02),(46,0.31),(54,0.69),(61,0.98),(67,1.10),(75,0.98),(84,0.65),(93,0.41),(105,0.31),(117,0.22),(129,0.12),(141,0.07),(150,0),(159,0.17),(168,0.36),(177,0.50),(186,0.55),(195,0.45),(207,0.41),(216,0.31),(225,0.36),(237,0.50),(249,0.60),(261,0.74),(270,0.86),(279,0.74),(291,0.31),(300,0.22),(309,0.26),(320,0.26),(332,0.36),(344,0.41),(356,0.41),(368,0.50),(380,0.60),(392,0.41),(404,0.45),(416,0.60),(428,0.65),(440,0.60),(452,0.79),(462,0.98),(472,0.79),(484,0.50),(499,0.31),(511,0.31),(523,0.36),(535,0.26),(547,0.12),(559,0.12),(571,0.50),(583,0.45),(595,0.31),(607,0.22),(619,0.31),(625,0.41),(634,0.26),(646,0.07),(658,0.12),(670,0.02),(682,0.22),(695,0.31),(707,0.22),(719,0.26),(731,0.31),(743,0.36),(755,0.07),(764,0),(773,0.17),(785,0.22),(800,0.41)]

# ---------------- layout / style ----------------
W = 921
H_ERP = 563
H_P = 210
ERP_X0 = W * 100 / 900       # pixel position of 0 ms in ERP panels
P_XMIN = -104
P_X0 = W * 104 / 904         # pixel position of 0 ms in p panels
FONT = "Liberation Sans, Arial, sans-serif"

STYLE = {
    "F7": dict(zero="#111111", yaxis="#bdbdbd", ms=(893, 22), lab=(767, 2.12), top="#222222", dash="#8f7878"),
    "F3": dict(zero="#a8a8a8", yaxis="#555555", ms=(900, -16), lab=(749, 2.13), top="#cfcfcf", dash="#f2bcbc"),
    "T3": dict(zero="#111111", yaxis="#bdbdbd", ms=(893, 21), lab=(773, 2.12), top="#333333", dash="#8f7070"),
    "C3": dict(zero="#9a9a9a", yaxis="#8a8a8a", ms=(900, 25), lab=(780, 2.14), top="#333333", dash="#8f7070"),
    "T5": dict(zero="#8a8a8a", yaxis="#444444", ms=(893, -15), lab=(785, 2.03), top="#333333", dash="#8f7070"),
    "P3": dict(zero="#333333", yaxis="#9a9a9a", ms=(900, 49), lab=(778, 2.09), top="#d8d8d8", dash="#f2bcbc"),
}


def erp_chart(name, series, legend=None):
    st = STYLE[name]
    rows = [{"time": t, "uv": v, "cond": c} for c, pts in zip(CONDITIONS, series) for t, v in pts]
    df = pd.DataFrame(rows)
    xs = alt.Scale(domain=[-100, 800], nice=False, zero=False)
    ys = alt.Scale(domain=[-3, 3], nice=False, zero=False)
    x_axis = alt.Axis(offset=-H_ERP / 2, values=[-100, 100, 200, 300, 400, 500, 600, 700],
                      domainColor=st["zero"], domainWidth=1.6, tickColor=st["zero"], tickSize=6,
                      labelPadding=12, labelFont=FONT, labelFontSize=12, labelColor="#555555",
                      title="ms", titleX=st["ms"][0], titleY=st["ms"][1], titleAlign="center",
                      titleBaseline="middle", titleFont=FONT, titleFontSize=14,
                      titleFontWeight="normal", titleColor="#555555", grid=False)
    y_axis = alt.Axis(offset=-ERP_X0, values=[-3, -2, -1, 1, 2, 3], labelExpr="'' + datum.value",
                      domainColor=st["yaxis"], domainWidth=1, tickColor=st["yaxis"], tickSize=5,
                      labelPadding=4, labelFont=FONT, labelFontSize=12, labelColor="#555555",
                      title="mkV", titleAngle=0, titleX=-34, titleY=10, titleAlign="right",
                      titleBaseline="middle", titleFont=FONT, titleFontSize=14,
                      titleFontWeight="normal", titleColor="#444444", grid=False)
    X = alt.X("time:Q", scale=xs, axis=x_axis)
    Y = alt.Y("uv:Q", scale=ys, axis=y_axis)
    color = alt.Color("cond:N", scale=alt.Scale(domain=CONDITIONS, range=COND_COLORS),
                      legend=legend, sort=CONDITIONS)
    lines = alt.Chart(df).mark_line(strokeWidth=3.6, interpolate="monotone").encode(x=X, y=Y, color=color)
    lab_df = pd.DataFrame({"time": [st["lab"][0]], "uv": [st["lab"][1]], "text": [name]})
    label = alt.Chart(lab_df).mark_text(font=FONT, fontSize=15, fontWeight="bold", color="#222222").encode(
        x=X, y=Y, text="text:N")
    return alt.layer(lines, label).properties(width=W, height=H_ERP)


def pval_chart(name, series, extra, legend=None):
    st = STYLE[name]
    rows = [{"time": t, "nlp": v, "comp": c} for c, pts in zip(COMPARISONS, series) for t, v in pts]
    df = pd.DataFrame(rows)
    H = H_P + extra
    ymax = 3 + extra * 3 / H_P
    xs = alt.Scale(domain=[P_XMIN, 800], nice=False, zero=False)
    ys = alt.Scale(domain=[0, ymax], reverse=True, nice=False, zero=False)
    x_axis = alt.Axis(offset=-extra, values=[0, 100, 200, 300, 400, 500, 600, 700], domain=False,
                      tickColor="#444444", tickSize=4, labelPadding=3, labelFont=FONT,
                      labelFontSize=12, labelColor="#555555", title=None, grid=False)
    y_axis = alt.Axis(offset=-P_X0, values=[0, 1, 2, 3],
                      labelExpr="datum.value == 0 ? '1' : datum.value == 1 ? '0.1' : datum.value == 2 ? '0.01' : '0.001'",
                      domain=False, tickColor="#444444", tickSize=4, labelPadding=3, labelFont=FONT,
                      labelFontSize=12, labelColor="#555555", title="-log10(p)", titleX=-48,
                      titleY=H_P / 2, titleAngle=270, titleAlign="center", titleBaseline="middle",
                      titleFont=FONT, titleFontSize=14, titleFontWeight="bold", titleColor="#333333",
                      grid=False)
    X = alt.X("time:Q", scale=xs, axis=x_axis)
    Y = alt.Y("nlp:Q", scale=ys, axis=y_axis)

    def rule(d, color, width=1.4, dash=None):
        kw = dict(color=color, strokeWidth=width)
        if dash:
            kw["strokeDash"] = dash
        return alt.Chart(pd.DataFrame(d)).mark_rule(**kw).encode(x=X, x2="time2:Q", y=Y, y2="nlp2:Q")

    dashed = rule({"time": [0], "time2": [800], "nlp": [1.301], "nlp2": [1.301]}, st["dash"], 2, [9, 5])
    frame_dark = rule({"time": [0, 0], "time2": [800, 0], "nlp": [3, 0], "nlp2": [3, 3]}, "#444444", 1.4)
    frame_top = rule({"time": [0], "time2": [800], "nlp": [0], "nlp2": [0]}, st["top"], 1.6)
    frame_right = rule({"time": [800], "time2": [800], "nlp": [0], "nlp2": [3]}, "#c8c8c8", 1.2)

    lines = alt.Chart(df).mark_line(strokeWidth=1.9, interpolate="monotone").encode(
        x=X, y=Y,
        color=alt.Color("comp:N", scale=alt.Scale(domain=COMPARISONS, range=COMP_COLORS),
                        legend=legend, sort=COMPARISONS),
    )
    ptxt = alt.Chart(pd.DataFrame({"time": [796], "nlp": [1.301], "text": ["p=0.05"]})).mark_text(
        align="right", baseline="middle", dy=-10, font=FONT, fontSize=12.5, color="#c0445a").encode(
        x=X, y=Y, text="text:N")
    return alt.layer(lines, dashed, frame_top, frame_right, frame_dark, ptxt).properties(width=W, height=H)


erp_legend = alt.Legend(orient="none", legendX=778, legendY=419, title=None, symbolType="stroke",
                        symbolSize=961, symbolStrokeWidth=4.5, labelFont="Lato", labelFontSize=19,
                        labelFontWeight="bold", labelColor="#222222", labelOffset=12, rowPadding=5,
                        padding=0, labelLimit=300)
p_legend = alt.Legend(orient="none", legendX=772, legendY=136, title=None, symbolType="stroke",
                      symbolSize=576, symbolStrokeWidth=2.2, labelFont=FONT, labelFontSize=12.5,
                      labelColor="#222222", labelOffset=5, rowPadding=0, padding=4,
                      strokeColor="#444444", fillColor="#ffffff", labelLimit=300)

charts = [
    erp_chart("F7", [F7_SHORT, F7_MEDIUM, F7_LONG]),
    erp_chart("F3", [F3_SHORT, F3_MEDIUM, F3_LONG]),
    pval_chart("F7", [F7_SM, F7_SL, F7_ML], 40),
    pval_chart("F3", [F3_SM, F3_SL, F3_ML], 40),
    erp_chart("T3", [T3_SHORT, T3_MEDIUM, T3_LONG]),
    erp_chart("C3", [C3_SHORT, C3_MEDIUM, C3_LONG]),
    pval_chart("T3", [T3_SM, T3_SL, T3_ML], 55),
    pval_chart("C3", [C3_SM, C3_SL, C3_ML], 55),
    erp_chart("T5", [T5_SHORT, T5_MEDIUM, T5_LONG]),
    erp_chart("P3", [P3_SHORT, P3_MEDIUM, P3_LONG], legend=erp_legend),
    pval_chart("T5", [T5_SM, T5_SL, T5_ML], 0),
    pval_chart("P3", [P3_SM, P3_SL, P3_ML], 0, legend=p_legend),
]

chart = alt.concat(
    *charts, columns=2, spacing={"row": 21, "column": 20}, bounds="flush"
).resolve_scale(color="independent").properties(
    padding={"left": 17, "top": 1, "right": 5, "bottom": 5}, background="white"
).configure_view(stroke=None)

chart.save("out.html", embed_options={"renderer": "svg", "actions": False})
